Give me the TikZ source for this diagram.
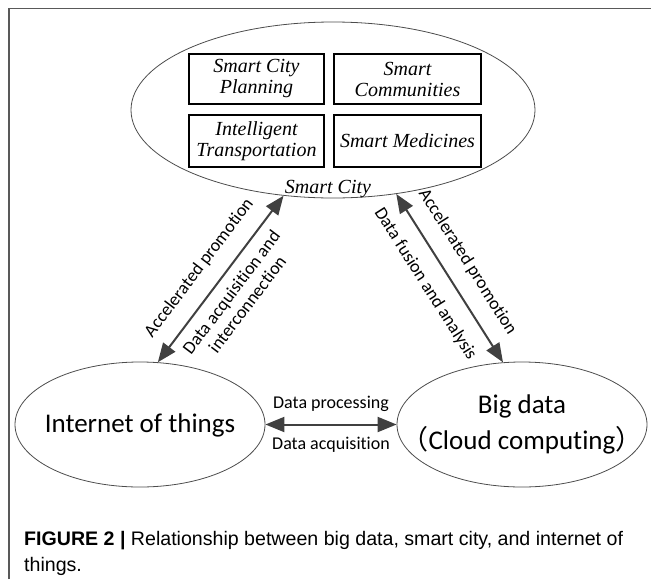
\documentclass[tikz,border=0pt]{standalone}
\usepackage{fontspec}
\setmainfont{Liberation Serif}
\newfontfamily\calfont[Ligatures={NoCommon,NoDiscretionary,NoContextual}]{Carlito}
\newfontfamily\capfont{Liberation Sans}
\newfontfamily\cjkfont{Noto Sans CJK SC}
\usetikzlibrary{shapes.geometric,arrows.meta}
\begin{document}
\begin{tikzpicture}[x=1pt,y=-1pt,
  ell/.style={ellipse, draw=black!70, line width=0.8pt, inner sep=0pt},
  subbox/.style={draw=black, line width=1.2pt, inner sep=0pt, align=center,
    font=\fontsize{20}{21}\selectfont\itshape},
  bigtxt/.style={font=\calfont\fontsize{27}{34}\selectfont, inner sep=0pt},
  link/.style={draw=black!75, line width=2pt,
    {Triangle[length=19pt,width=15pt]}-{Triangle[length=19pt,width=15pt]}},
  lbl/.style={font=\calfont\fontsize{18}{20}\selectfont, align=center, inner sep=3pt},
  captxt/.style={font=\capfont\fontsize{19.6}{26}\selectfont, inner sep=0pt, anchor=base west}
]
\useasboundingbox (0,0) rectangle (651,579);
% frame
\draw[black!65, line width=1.5pt] (9,579) -- (9,8.5) -- (651,8.5);

% smart city
\node[ell, minimum width=404pt, minimum height=176pt] (sc) at (333,110) {};
\node[subbox, minimum width=135pt, minimum height=50pt] (b1) at (256.5,79) {Smart City\\Planning};
\node[subbox, minimum width=147pt, minimum height=50pt] (b2) at (407.5,79) {Smart\\Communities};
\node[subbox, minimum width=135pt, minimum height=52pt] (b3) at (256.5,141) {Intelligent\\Transportation};
\node[subbox, minimum width=147pt, minimum height=52pt] (b4) at (407.5,141) {Smart Medicines};
\node[font=\fontsize{20}{21}\selectfont\itshape, inner sep=0pt, anchor=base] (sclbl) at (328,193) {Smart City};

% internet of things / big data
\node[ell, minimum width=250pt, minimum height=125pt] (iot) at (140,424.5) {};
\node[ell, minimum width=250pt, minimum height=125pt] (bd) at (522,424.5) {};
\node[bigtxt, anchor=base] (iott) at (140,432) {Internet of things};
\node[bigtxt, anchor=base] (bdt1) at (522,413) {Big data};
\node[bigtxt, anchor=base] (bdt2) at (522,449) {{\cjkfont （}Cloud computing{\cjkfont ）}};

% connectors
\draw[link] (iot.74) --
  node[lbl, sloped, above=12pt, pos=0.48] (l1) {Accelerated promotion}
  node[lbl, sloped, below=6pt, pos=0.48] (l2) {Data acquisition and\\interconnection}
  (sc.240);
\draw[link] (sc.307) --
  node[lbl, sloped, above=12pt, pos=0.48] (r1) {Accelerated promotion}
  node[lbl, sloped, below=12pt, pos=0.46] (r2) {Data fusion and analysis}
  (bd.107);
\draw[link] (iot.east) --
  node[lbl, above=9pt] (h1) {Data processing}
  node[lbl, below=9pt] (h2) {Data acquisition}
  (bd.west);

% caption
\node[captxt] (cap1) at (24,545) {\textbf{FIGURE 2 |} Relationship between big data, smart city, and internet of};
\node[captxt] (cap2) at (24,571) {things.};
\end{tikzpicture}
\end{document}
